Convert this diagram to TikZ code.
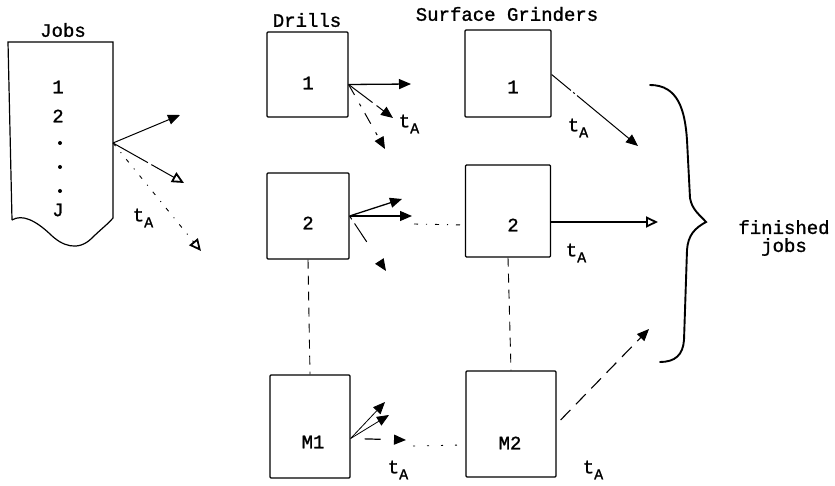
\documentclass[tikz,border=0pt]{standalone}
\usepackage{fontspec}
\setmainfont{Liberation Mono}[FakeBold=1.2]
\usetikzlibrary{arrows.meta,calc}
\newcommand{\tA}{t\raisebox{-6pt}{\fontsize{15}{15}\selectfont A}}
\begin{document}
\begin{tikzpicture}[x=1pt,y=-1pt,
  every node/.style={font=\fontsize{19}{21}\selectfont},
  machine/.style={draw,line width=1.2pt,inner sep=0pt,rounded corners=1pt},
  tipfill/.style={-{Triangle[length=12pt,width=10pt]}},
  tipopen/.style={-{Triangle[open,length=12pt,width=11pt,line width=1.8pt]}},
  flow/.style={line width=1pt},
  link/.style={line width=0.9pt,dash pattern=on 9pt off 7pt},
  dotlink/.style={line width=0.9pt,dash pattern=on 4pt off 8pt on 1pt off 8pt},
  timelabel/.style={inner sep=0pt}]
\useasboundingbox (0,0) rectangle (835,486);

% queue of jobs
\draw[line width=1.2pt] (12,220) -- (8,42) -- (113,42) -- (113,218)
  .. controls (108,224) and (100,230) .. (92,238)
  .. controls (78,252) and (62,246) .. (50,234)
  .. controls (35,220) and (22,214) .. (12,220);
\node (jobslbl) at (63,30) {Jobs};
\node (j1) at (58,87) {1};
\node (j2) at (58,116) {2};
\fill (60,143) circle (2) (60,167) circle (2) (60,191) circle (2);
\node (jJ) at (58,210) {J};
\coordinate (jout) at (113,143);
\coordinate (ja) at (180,115);
\coordinate (jb) at (184,183);
\coordinate (jc) at (201,251);
\draw[flow,tipfill] (jout) -- (ja);
\draw[flow,tipopen,dash pattern=on 40pt off 4pt on 30pt off 2pt] (jout) -- (jb);
\draw[flow,tipopen,dotlink] (jout) -- (jc);
\node[timelabel] (tj) at (143,218) {\tA};

% column headings
\node (drlbl) at (307,20) {Drills};
\node (sglbl) at (507,14) {Surface Grinders};

% drills
\node[machine,minimum width=81pt,minimum height=85pt] (d1) at (307.5,74.5) {};
\node (d1t) at (308,83) {1};
\node[machine,minimum width=82pt,minimum height=86pt] (d2) at (308,216) {};
\node (d2t) at (308,223) {2};
\node[machine,minimum width=80pt,minimum height=103pt] (m1) at (310,426.5) {};
\node (m1t) at (313,442) {M1};

% surface grinders
\node[machine,minimum width=86pt,minimum height=87pt] (s1) at (508,73.5) {};
\node (s1t) at (513,87) {1};
\node[machine,minimum width=85pt,minimum height=92pt] (s2) at (508,211) {};
\node (s2t) at (513,225) {2};
\node[machine,minimum width=90pt,minimum height=106pt] (m2) at (511,424) {};
\node (m2t) at (510,443) {M2};

% dashed links between the second row and the last row
\draw[link] (d2.south) -- (m1.north);
\draw[link] (s2.south) -- (m2.north);

% drill 1 outputs
\coordinate (d1o) at ($(d1.east)+(0,10)$);
\coordinate (d1a) at (411,84);
\coordinate (d1b) at (393,118);
\coordinate (d1c) at (385,149);
\draw[flow,tipfill,line width=1.3pt] (d1o) -- (d1a);
\draw[flow,tipfill,dash pattern=on 30pt off 5pt] (d1o) -- (d1b);
\draw[flow,tipfill,dash pattern=on 12pt off 10pt on 3pt off 8pt] (d1o) -- (d1c);
\node[timelabel] (td1) at (409,124) {\tA};

% drill 2 outputs
\coordinate (d2o) at (d2.east);
\coordinate (d2a) at (402,199);
\coordinate (d2b) at (412,216);
\coordinate (d2c) at (386,271);
\draw[flow,tipfill,line width=1.3pt] (d2o) -- (d2a);
\draw[flow,tipfill,line width=1.3pt] (d2o) -- (d2b);
\draw[flow,tipfill,dash pattern=on 4pt off 5pt on 22pt off 30pt] (d2o) -- (d2c);
\coordinate (d2d) at (414,224);
\draw[dotlink] (d2d) -- ($(s2.west)+(0,14)$);

% M1 outputs
\coordinate (m1o) at ($(m1.east)+(0,12)$);
\coordinate (m1a) at (385,402);
\coordinate (m1b) at (389,415);
\coordinate (m1c) at (406,440);
\draw[flow,tipfill,line width=0.8pt] (m1o) -- (m1a);
\draw[flow,tipfill,line width=0.8pt] (m1o) -- (m1b);
\draw[flow,tipfill,line width=1.2pt,dash pattern=on 0pt off 14pt on 16pt off 30pt] (m1o) -- (m1c);
\coordinate (m1d) at (413,446);
\draw[line width=0.9pt,dash pattern=on 2pt off 12pt] (m1d) -- ($(m2.west)+(0,21)$);
\node[timelabel] (tm1) at (398,470) {\tA};

% grinder outputs
\coordinate (s1o) at ($(s1.east)+(0,1)$);
\coordinate (s1a) at (638,146);
\draw[flow,tipfill,dash pattern=on 25pt off 3pt on 2pt off 3pt on 200pt off 1pt] (s1o) -- (s1a);
\node[timelabel] (ts1) at (578,128) {\tA};
\coordinate (s2o) at ($(s2.east)+(0,11)$);
\coordinate (s2a) at (658,222);
\draw[flow,tipopen,line width=1.6pt] (s2o) -- (s2a);
\node[timelabel] (ts2) at (576,253) {\tA};
\coordinate (m2o) at ($(m2.east)+(4,-4)$);
\coordinate (m2a) at (649,329);
\draw[flow,tipfill,line width=1.1pt,dash pattern=on 14pt off 8pt] (m2o) -- (m2a);
\node[timelabel] (tm2) at (593,470) {\tA};

% brace grouping the finished jobs
\draw[line width=1.9pt,line cap=round]
  (650,85) .. controls (678,85) and (685,110) .. (687,140)
  -- (690,198) .. controls (692,210) and (700,215) .. (706,222)
  .. controls (695,228) and (688,235) .. (687,250)
  -- (684,340) .. controls (683,355) and (675,362) .. (660,362);
\node[align=center,inner sep=0pt] (fin) at (784,238) {finished\\[-3pt]jobs};
\end{tikzpicture}
\end{document}
